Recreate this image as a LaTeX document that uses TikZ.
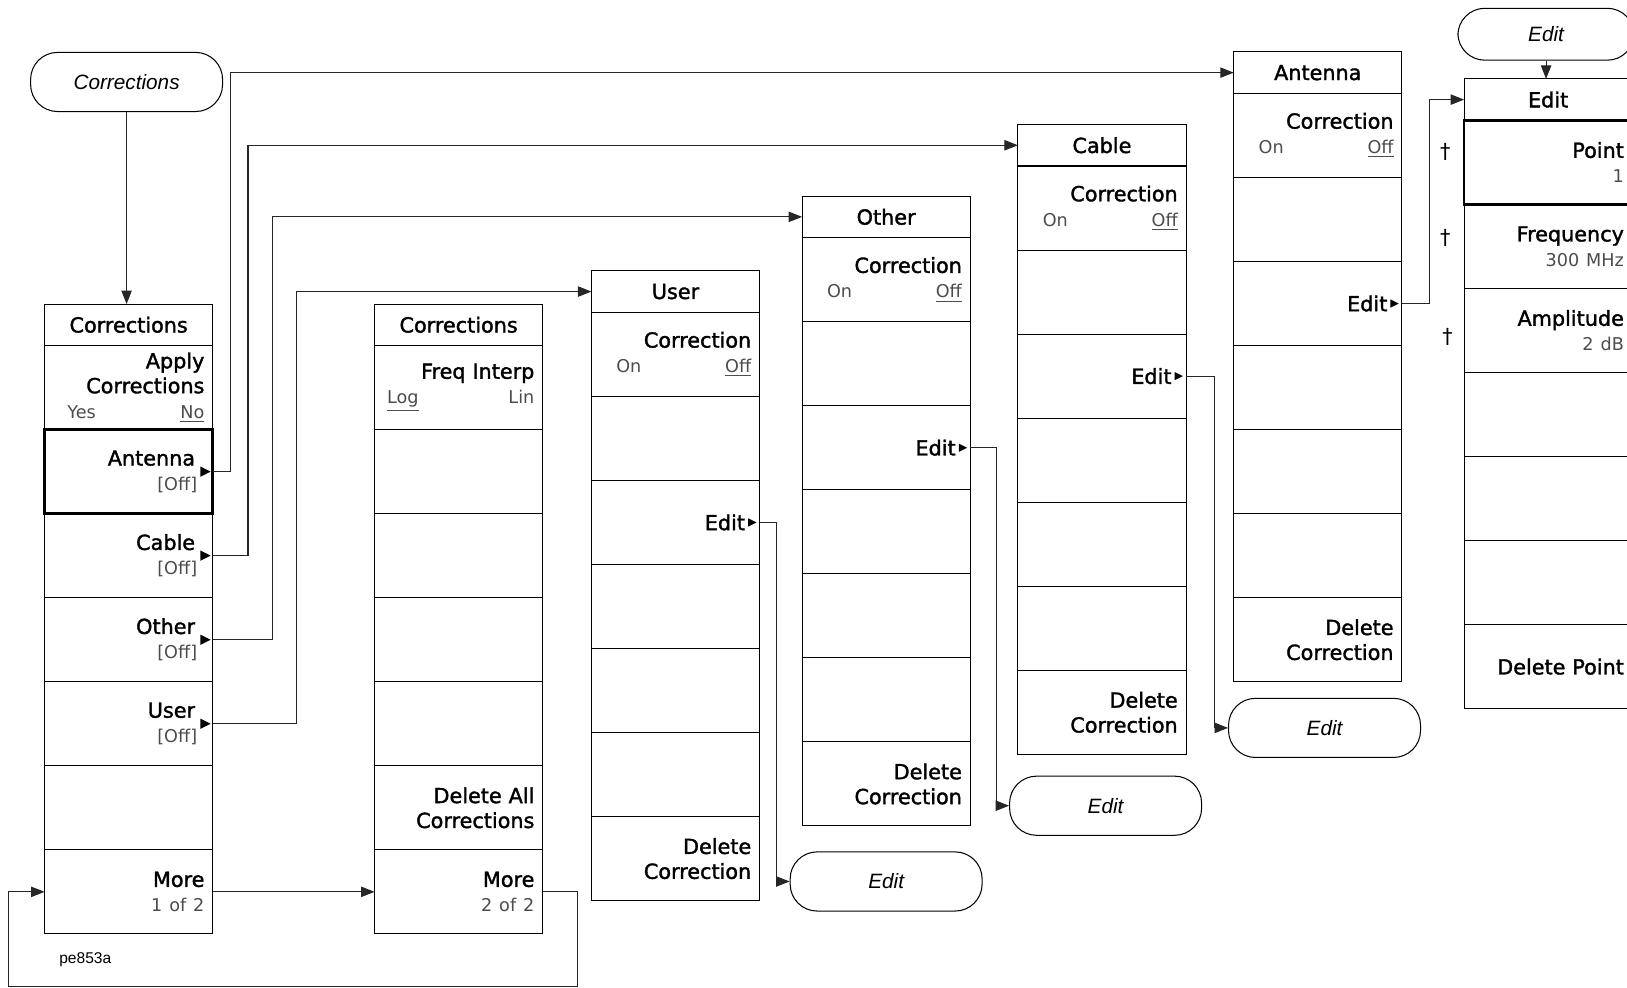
\documentclass[tikz,border=0pt]{standalone}
\usepackage{fontspec}
\setmainfont{DejaVu Sans}
\newfontfamily\keyfont{DejaVu Sans}[RawFeature={embolden=1.6}]
\newfontfamily\arialfont{Liberation Sans}
\usepackage{tikz}
\usetikzlibrary{positioning, arrows.meta, calc}
\newcommand{\lite}[1]{{\normalfont\fontsize{8.5}{10}\selectfont\color{black!70}#1}}
\newcommand{\twoway}[3]{\hbox to \linewidth{\hspace{#1}\lite{#2}\hfill\lite{#3}}}
\newcommand{\gap}[1]{\hbox to #1{}}
\tikzstyle{menutitle} = [draw, outer sep=0pt, inner sep=0pt, minimum width=81pt, minimum height=20pt, anchor=north west, font=\keyfont\fontsize{10}{12}\selectfont]
\tikzstyle{softkey} = [draw, outer sep=0pt, inner sep=0pt, minimum width=81pt, minimum height=40.5pt, text width=73pt, align=right, font=\keyfont\fontsize{10}{12}\selectfont]
\tikzstyle{oval} = [draw, rounded corners=13pt, minimum width=92.5pt, minimum height=28.5pt, font=\arialfont\itshape\fontsize{10}{12}\selectfont]
\tikzstyle{conn} = [draw=black!85, line width=0.5pt, -{Triangle[length=6.5pt,width=5pt]}]
\begin{document}
\begin{tikzpicture}[x=0.5pt, y=-0.5pt, line width=0.5pt]
	\useasboundingbox (0,0) rectangle (1568,952);
	% first page of the menu
	\node[oval] (corov) at (122,79) {Corrections};
	\node[menutitle, alias=cor0] (cor) at (43,293) {Corrections};
	\foreach \k [count=\i, remember=\i as \p (initially 0)] in {{Apply\\Corrections\\\twoway{7pt}{Yes}{\underline{No}}}, {Antenna\gap{4.5pt}\\\lite{[Off]}\gap{3.5pt}}, {Cable\gap{4.5pt}\\\lite{[Off]}\gap{3.5pt}}, {Other\gap{4.5pt}\\\lite{[Off]}\gap{3.5pt}}, {User\gap{4.5pt}\\\lite{[Off]}\gap{3.5pt}}, {}, {More\\\lite{1 of 2}}}
		\node[softkey, below=0pt of cor\p] (cor\i) {\k};
	\draw[line width=1.3pt] (cor2.north west) rectangle (cor2.south east);
	% second page
	\node[menutitle, alias=cortwo0] (cortwo) at (361,293) {Corrections};
	\foreach \k [count=\i, remember=\i as \p (initially 0)] in {{Freq Interp\\\twoway{2pt}{\underline{Log}}{Lin}}, {}, {}, {}, {}, {Delete All\\Corrections}, {More\\\lite{2 of 2}}}
		\node[softkey, below=0pt of cortwo\p] (cortwo\i) {\k};
	% user, other, cable, antenna
	\node[menutitle, alias=usr0] (usr) at (570,261) {User};
	\foreach \k [count=\i, remember=\i as \p (initially 0)] in {{Correction\\\twoway{8pt}{On}{\underline{Off}}}, {}, {Edit\gap{3pt}}, {}, {}, {}, {Delete\\Correction}}
		\node[softkey, below=0pt of usr\p] (usr\i) {\k};
	\node[menutitle, alias=oth0] (oth) at (773,189) {Other};
	\foreach \k [count=\i, remember=\i as \p (initially 0)] in {{Correction\\\twoway{8pt}{On}{\underline{Off}}}, {}, {Edit\gap{3pt}}, {}, {}, {}, {Delete\\Correction}}
		\node[softkey, below=0pt of oth\p] (oth\i) {\k};
	\node[menutitle, alias=cab0] (cab) at (981,120) {Cable};
	\foreach \k [count=\i, remember=\i as \p (initially 0)] in {{Correction\\\twoway{8pt}{On}{\underline{Off}}}, {}, {Edit\gap{3pt}}, {}, {}, {}, {Delete\\Correction}}
		\node[softkey, below=0pt of cab\p] (cab\i) {\k};
	\node[menutitle, alias=ant0] (ant) at (1189,50) {Antenna};
	\foreach \k [count=\i, remember=\i as \p (initially 0)] in {{Correction\\\twoway{8pt}{On}{\underline{Off}}}, {}, {Edit\gap{3pt}}, {}, {}, {}, {Delete\\Correction}}
		\node[softkey, below=0pt of ant\p] (ant\i) {\k};
	% edit menu
	\node[oval, minimum width=85pt, minimum height=25pt] (edtov) at (1490,33) {Edit};
	\node[menutitle, alias=edt0] (edt) at (1411,76) {Edit};
	\foreach \k [count=\i, remember=\i as \p (initially 0)] in {{Point\\\lite{1}}, {Frequency\\\lite{300 MHz}}, {Amplitude\\\lite{2 dB}}, {}, {}, {}, {Delete Point}}
		\node[softkey, below=0pt of edt\p] (edt\i) {\k};
	\draw[line width=1.3pt] (edt1.north west) rectangle (edt1.south east);
	\node (dg1) at (1393,146) {†};
	\node (dg2) at (1393,229) {†};
	\node (dg3) at (1395,325) {†};
	% edit ovals
	\node[oval] (usrov) at (854,849.5) {Edit};
	\node[oval] (othov) at (1065.5,776.5) {Edit};
	\node[oval] (cabov) at (1276.5,701.5) {Edit};
	% key arrows
	\foreach \n in {cor2,cor3,cor4,cor5}
		\fill (\n.east) ++(-2,0) -- ++(-10,5) -- ++(0,-10) -- cycle;
	\foreach \n in {usr3,oth3,cab3,ant3}
		\fill (\n.east) ++(-3,0) -- ++(-8,4) -- ++(0,-8) -- cycle;
	% connectors
	\draw[conn] (corov.south) -- (corov.south |- cor.north);
	\draw[conn] (cor2.east) -- ++(17,0) |- (ant.west);
	\draw[conn] (cor3.east) -- ++(34,0) |- (cab.west);
	\draw[conn] (cor4.east) -- ++(58,0) |- (oth.west);
	\draw[conn] (cor5.east) -- ++(81,0) |- (usr.west);
	\draw[conn] (cor7.east) -- (cortwo7.west);
	\draw[conn] (cortwo7.east) -- ++(34,0) -- ++(0,91) -| ($(cor7.west)+(-35,0)$) -- (cor7.west);
	\draw[conn] (usr3.east) -- ++(16,0) |- (usrov.west);
	\draw[conn] (oth3.east) -- ++(25,0) |- (othov.west);
	\draw[conn] (cab3.east) -- ++(27,0) |- (cabov.west);
	\draw[conn] (ant3.east) -- ++(27,0) |- (edt.west);
	\draw[conn] (edtov.south) -- (edtov.south |- edt.north);
	\node[anchor=west, font=\arialfont\fontsize{7.5}{9}\selectfont] (fig) at (50,925) {pe853a};
\end{tikzpicture}
\end{document}
